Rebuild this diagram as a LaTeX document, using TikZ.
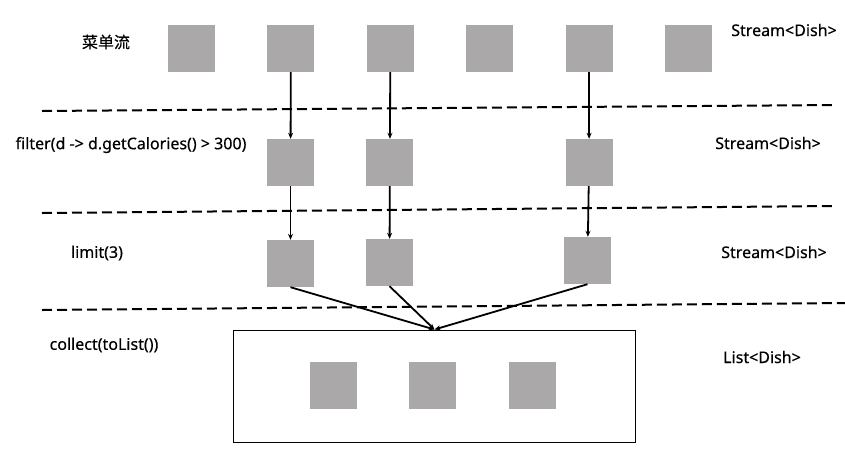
\documentclass[tikz,border=0pt]{standalone}
\usepackage{fontspec}
\setmainfont{Noto Sans}[FakeBold=0.4]
\newfontfamily\cjk{Noto Sans CJK SC}[FakeBold=0.4]
\usetikzlibrary{positioning,calc,arrows.meta}
\definecolor{dishgray}{RGB}{171,168,169}

\begin{document}
\begin{tikzpicture}[x=1pt,y=-1pt,node distance=52pt,>={Stealth[length=6pt,width=5pt]},
	dish/.style={fill=dishgray,minimum size=47pt,inner sep=0pt},
	stage/.style={font=\fontsize{16pt}{18pt}\selectfont,inner sep=0pt},
	sep/.style={line width=2pt,dash pattern=on 10pt off 5pt}]
	\useasboundingbox (0,0) rectangle (845,453);
	% menu stream
	\node[dish]               (s1) at (191.5,48.5) {};
	\node[dish,right=of s1]   (s2) {};
	\node[dish,right=of s2]   (s3) {};
	\node[dish,right=of s3]   (s4) {};
	\node[dish,right=of s4]   (s5) {};
	\node[dish,right=of s5]   (s6) {};
	% filter
	\node[dish]               (f1) at (290.5,162.5) {};
	\node[dish,right=of f1]   (f2) {};
	\node[dish,at=(s5|-f1)]   (f3) {};
	% limit
	\node[dish]               (l1) at (290.5,263.5) {};
	\node[dish]               (l2) at (389.5,262.5) {};
	\node[dish]               (l3) at (587.5,260.5) {};
	% collect
	\node[draw,line width=1pt,minimum width=402pt,minimum height=112pt,inner sep=0pt] (box) at (434.5,386) {};
	\node[dish]               (c1) at (333.5,385.5) {};
	\node[dish,right=of c1]   (c2) {};
	\node[dish,right=of c2]   (c3) {};
	% stage labels
	\node[stage] (menu)    at (106,42)  {\cjk 菜单流};
	\node[stage] (filter)  at (131,145) {filter(d -> d.getCalories() > 300)};
	\node[stage] (limit)   at (97,253)  {limit(3)};
	\node[stage] (collect) at (104,345) {collect(toList())};
	\node[stage] (t1) at (784,30)  {Stream<Dish>};
	\node[stage] (t2) at (768,143) {Stream<Dish>};
	\node[stage] (t3) at (774,252) {Stream<Dish>};
	\node[stage] (t4) at (762,357) {List<Dish>};
	% separators
	\coordinate (a1) at (42,111);   \coordinate (b1) at (835,105);
	\coordinate (a2) at (42,213);   \coordinate (b2) at (835,206);
	\coordinate (a3) at (42,310);   \coordinate (b3) at (845,303);
	\draw[sep] (a1) -- (b1);
	\draw[sep] (a2) -- (b2);
	\draw[sep] (a3) -- (b3);
	\path[->,line width=1.8pt]
		(s2) edge (f1) (s3) edge (f2) (s5) edge (f3)
		(f1) edge (l1) (f2) edge (l2) (f3) edge (l3)
		(l1.south) edge (box.north) (l2.south) edge (box.north) (l3.south) edge (box.north)
	; %-path-%
\end{tikzpicture}
\end{document}
